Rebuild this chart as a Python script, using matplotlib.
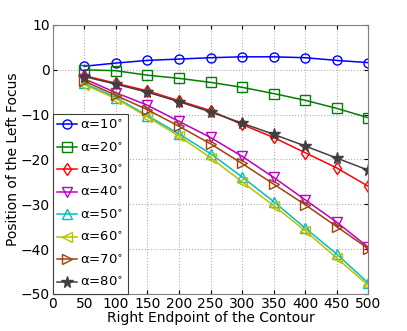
import numpy as np
import matplotlib
matplotlib.use("Agg")
import matplotlib.pyplot as plt

x = [50, 100, 150, 200, 250, 300, 350, 400, 450, 500]
alphas = [10, 20, 30, 40, 50, 60, 70, 80]

a10 = [0.8, 1.5, 2.1, 2.4, 2.7, 2.9, 2.9, 2.7, 2.1, 1.6]
a20 = [0.0, -0.2, -1.2, -1.9, -2.8, -3.9, -5.3, -6.8, -8.6, -10.7]
a30 = [-1.3, -3.0, -4.7, -6.9, -9.1, -12.2, -15.1, -18.5, -21.9, -26.0]
a40 = [-2.0, -5.1, -7.9, -11.5, -15.1, -19.3, -24.0, -29.0, -34.0, -39.6]
a50 = [-3.0, -6.2, -10.2, -14.3, -18.7, -23.9, -29.4, -35.3, -41.1, -47.6]
a60 = [-3.3, -6.4, -10.5, -14.8, -19.6, -25.0, -30.3, -35.9, -42.0, -48.1]
a70 = [-2.5, -5.7, -8.9, -12.6, -16.5, -20.9, -25.5, -30.1, -35.0, -39.9]
a80 = [-1.5, -3.2, -5.0, -7.1, -9.4, -11.9, -14.4, -17.0, -19.7, -22.4]
series = [a10, a20, a30, a40, a50, a60, a70, a80]

colors = ['#0000ff', '#008000', '#ff0000', '#bf00bf',
          '#00bfbf', '#bfbf00', '#a0400a', '#404040']
markers = ['o', 's', 'd', 'v', '^', '<', '>', '*']

fig = plt.figure(figsize=(4.07, 3.31), dpi=100)
ax = fig.add_axes([0.1295, 0.112, 0.7755, 0.8125])

for a, ys, c, m in zip(alphas, series, colors, markers):
    filled = (m == '*')
    ax.plot(x, ys, color=c, marker=m, lw=1.1,
            markersize=8.5 if filled else 6.5,
            markerfacecolor=c if filled else 'none',
            markeredgecolor=c, markeredgewidth=1.0,
            label='\u03b1=%d$^{\\circ}$' % a)

ax.set_xlim(0, 500)
ax.set_ylim(-50, 10)
ax.set_xticks(np.arange(0, 501, 50))
ax.set_yticks(np.arange(-50, 11, 10))
ax.set_yticklabels(['\u221250', '\u221240', '\u221230', '\u221220', '\u221210', '0', '10'])
ax.tick_params(direction='in', labelsize=10, length=3, top=True, right=True, pad=2)
ax.grid(True, linestyle=':', color='#b0b0b0', lw=0.8)
for s in ax.spines.values():
    s.set_color('#808080')
    s.set_linewidth(0.8)

ax.set_xlabel('Right Endpoint of the Contour', fontsize=10, labelpad=0)
ax.set_ylabel('Position of the Left Focus', fontsize=10)
ax.yaxis.set_label_coords(-0.105, 0.5)

leg = ax.legend(loc='lower left', borderaxespad=0, fontsize=9.5,
                handlelength=1.5, handletextpad=0.2, labelspacing=0.71,
                fancybox=False, framealpha=1, edgecolor='#404040',
                borderpad=0.35)
leg.get_frame().set_linewidth(0.8)

fig.savefig('out.png', dpi=100)
